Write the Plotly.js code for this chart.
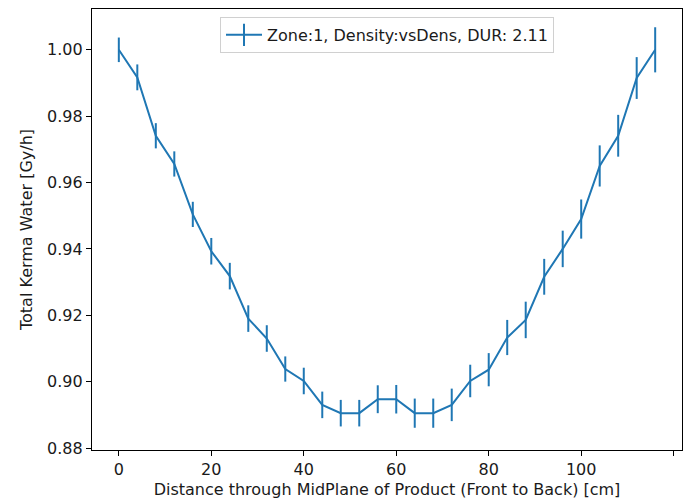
<!DOCTYPE html>
<html>
<head>
<meta charset="utf-8">
<script src="https://cdn.plot.ly/plotly-3.0.1.min.js"></script>
<style>html,body{margin:0;padding:0;background:#fff;}#chart{width:687px;height:499px;}</style>
</head>
<body>
<div id="chart"></div>
<script>
const distance = [0,4,8,12,16,20,24,28,32,36,40,44,48,52,56,60,64,68,72,76,80,84,88,92,96,100,104,108,112,116];
const kerma = [1.000,0.9917,0.9741,0.9656,0.9504,0.9393,0.9318,0.9190,0.9130,0.9038,0.9002,0.8930,0.8905,0.8905,0.8947,0.8947,0.8905,0.8905,0.8930,0.9002,0.9036,0.9133,0.9186,0.9316,0.9400,0.9490,0.9650,0.9741,0.9915,1.000];
const kermaErr = [0.0037,0.0039,0.0038,0.0038,0.0038,0.0040,0.0040,0.0040,0.0040,0.0038,0.0040,0.0040,0.0040,0.0040,0.0042,0.0043,0.0044,0.0044,0.0049,0.0049,0.0050,0.0053,0.0055,0.0054,0.0055,0.0059,0.0062,0.0063,0.0063,0.0068];
const seriesName = "Zone:1, Density:vsDens, DUR: 2.11";
const xTicks = [0,20,40,60,80,100,120];
const yTicks = [0.88,0.90,0.92,0.94,0.96,0.98,1.00];

const blue = "#1f77b4";
const font = {family: "DejaVu Sans, Verdana, sans-serif", size: 16, color: "#1a1a1a"};

const traces = [
  {
    x: distance, y: kerma, type: "scatter", mode: "lines",
    line: {color: blue, width: 2},
    error_y: {type: "data", array: kermaErr, visible: true, color: blue, thickness: 2, width: 0},
    showlegend: false, hoverinfo: "x+y"
  },
  {
    x: [null], y: [null], type: "scatter", mode: "lines+markers",
    name: seriesName,
    line: {color: blue, width: 2},
    marker: {symbol: "line-ns-open", size: 18, color: blue, line: {color: blue, width: 2}},
    showlegend: true
  }
];

const axisCommon = {
  showline: true, mirror: true, linecolor: "#000", linewidth: 1.1,
  ticks: "outside", ticklen: 5, tickwidth: 1, tickcolor: "#000",
  showgrid: false, zeroline: false, tickfont: font
};

const layout = {
  width: 687, height: 499,
  margin: {l: 92, r: 5, t: 9, b: 49},
  paper_bgcolor: "#fff", plot_bgcolor: "#fff",
  font: font,
  xaxis: Object.assign({}, axisCommon, {
    range: [-5.8, 121.8], tickvals: xTicks, ticktext: xTicks.map(String),
    title: {text: "Distance through MidPlane of Product (Front to Back) [cm]", font: font, standoff: 6}
  }),
  yaxis: Object.assign({}, axisCommon, {
    range: [0.8794, 1.0123], tickvals: yTicks, ticktext: yTicks.map(v => v.toFixed(2)),
    title: {text: "Total Kerma Water [Gy/h]", font: font, standoff: 10}
  }),
  legend: {
    x: 0.5, xanchor: "center", y: 0.982, yanchor: "top",
    bgcolor: "rgba(255,255,255,0.9)", bordercolor: "#d0d0d0", borderwidth: 1,
    font: font, itemwidth: 36
  },
  showlegend: true
};

Plotly.newPlot("chart", traces, layout, {displayModeBar: false, staticPlot: true});
</script>
</body>
</html>
